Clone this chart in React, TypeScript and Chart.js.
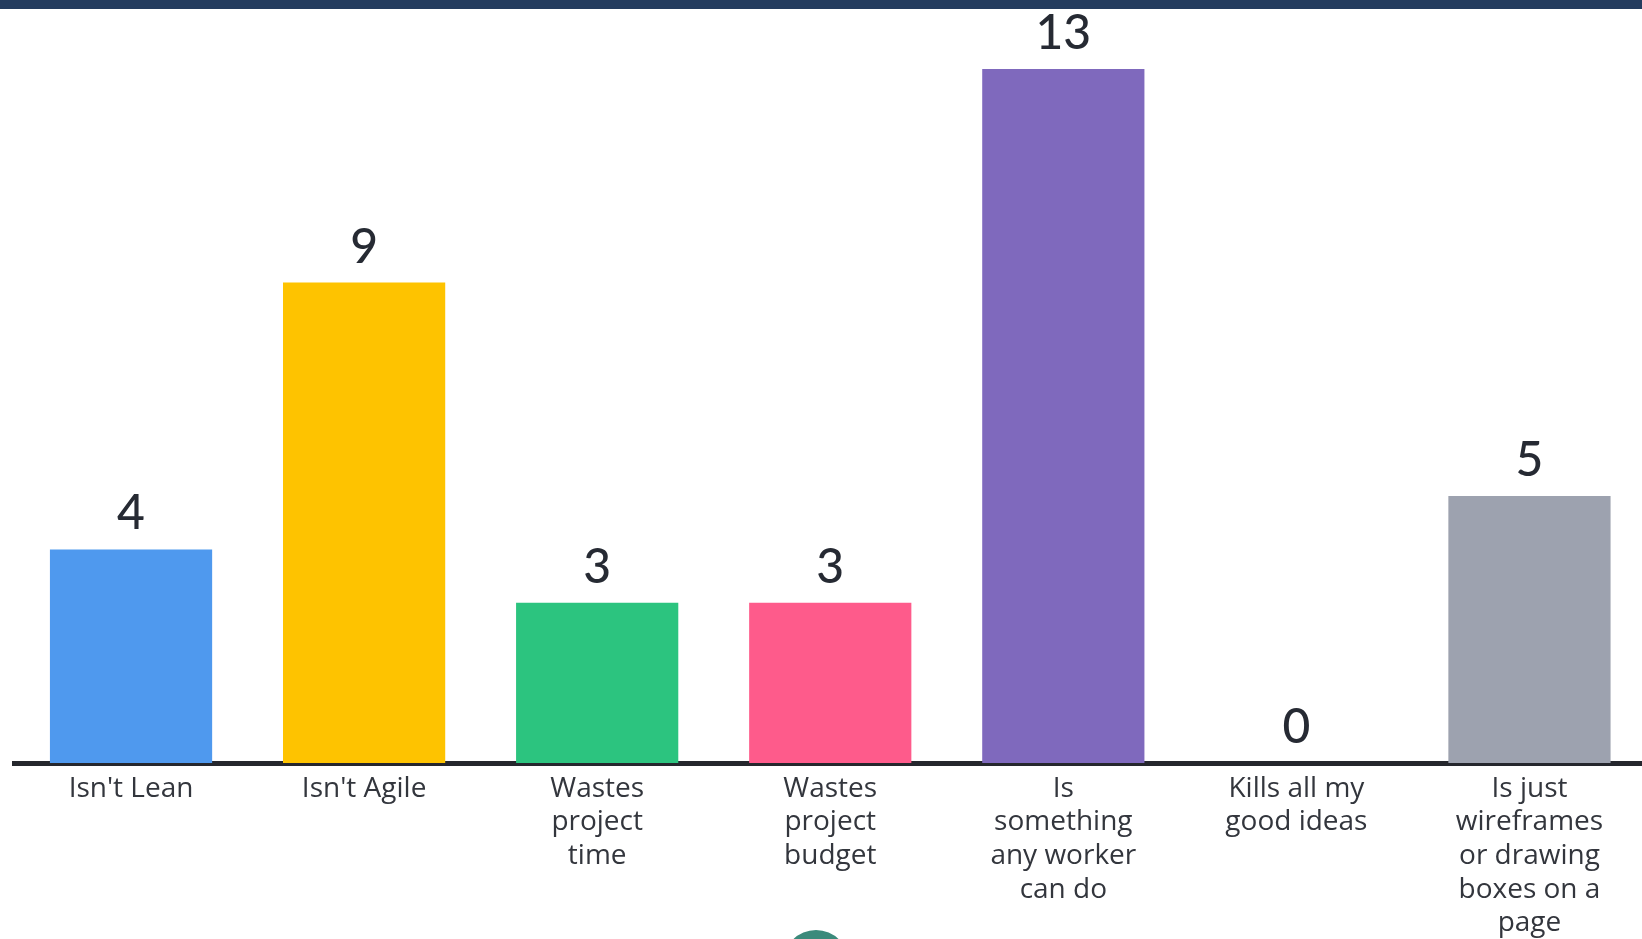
import React, { useEffect, useRef } from "react";
import { Chart, registerables } from "chart.js";

Chart.register(...registerables);

const categories: (string | string[])[] = [
  "Isn't Lean",
  "Isn't Agile",
  ["Wastes", "project", "time"],
  ["Wastes", "project", "budget"],
  ["Is", "something", "any worker", "can do"],
  ["Kills all my", "good ideas"],
  ["Is just", "wireframes", "or drawing", "boxes on a", "page"],
];
const votes: number[] = [4, 9, 3, 3, 13, 0, 5];
const barColors: string[] = [
  "#4f99ee",
  "#fec300",
  "#2cc47f",
  "#fe5b8b",
  "#7f69bd",
  "#9ca1ae",
  "#9da2af",
];

const NUM_FONT = "Lato, 'Noto Sans', sans-serif";
const LABEL_FONT = "'Open Sans', 'Noto Sans', sans-serif";

const valueLabels = {
  id: "valueLabels",
  afterDatasetsDraw(chart: any) {
    const ctx = chart.ctx;
    const meta = chart.getDatasetMeta(0);
    ctx.save();
    ctx.font = `500 48px ${NUM_FONT}`;
    ctx.fillStyle = "#262a33";
    ctx.textAlign = "center";
    ctx.textBaseline = "alphabetic";
    meta.data.forEach((bar: any, i: number) => {
      ctx.fillText(String(votes[i]), bar.x, bar.y - 20);
    });
    ctx.restore();
  },
};

export default function App() {
  const ref = useRef<HTMLCanvasElement | null>(null);
  useEffect(() => {
    if (!ref.current) return;
    const chart = new Chart(ref.current, {
      type: "bar",
      data: {
        labels: categories,
        datasets: [
          {
            data: votes,
            backgroundColor: barColors,
            borderWidth: 0,
            categoryPercentage: 1,
            barPercentage: 0.696,
          },
        ],
      },
      options: {
        responsive: false,
        animation: false,
        layout: { padding: { left: 14.5, right: 0, top: 69, bottom: 0 } },
        plugins: { legend: { display: false }, tooltip: { enabled: false } },
        scales: {
          x: {
            grid: { display: false, drawTicks: false },
            border: { display: true, color: "#25272d", width: 5 },
            ticks: {
              color: "#33363d",
              padding: 9,
              maxRotation: 0,
              autoSkip: false,
              font: { family: LABEL_FONT, size: 28, weight: "500", lineHeight: 1.2 },
            },
            afterFit: (axis: any) => {
              axis.height = 176;
            },
          },
          y: {
            display: false,
            min: 0,
            max: 13,
          },
        },
      },
      plugins: [valueLabels],
    });
    return () => chart.destroy();
  }, []);

  return (
    <div
      style={{
        position: "fixed",
        left: 0,
        top: 0,
        width: 1642,
        height: 939,
        overflow: "hidden",
        background: "#ffffff",
      }}
    >
      <canvas ref={ref} width={1646} height={939} style={{ display: "block" }} />
      <div
        style={{
          position: "absolute",
          left: 0,
          top: 0,
          width: 1642,
          height: 9,
          background: "#243c5e",
        }}
      />
      <div
        style={{
          position: "absolute",
          left: 783,
          top: 930,
          width: 66,
          height: 66,
          borderRadius: "50%",
          background: "#3b8a7b",
        }}
      />
    </div>
  );
}
